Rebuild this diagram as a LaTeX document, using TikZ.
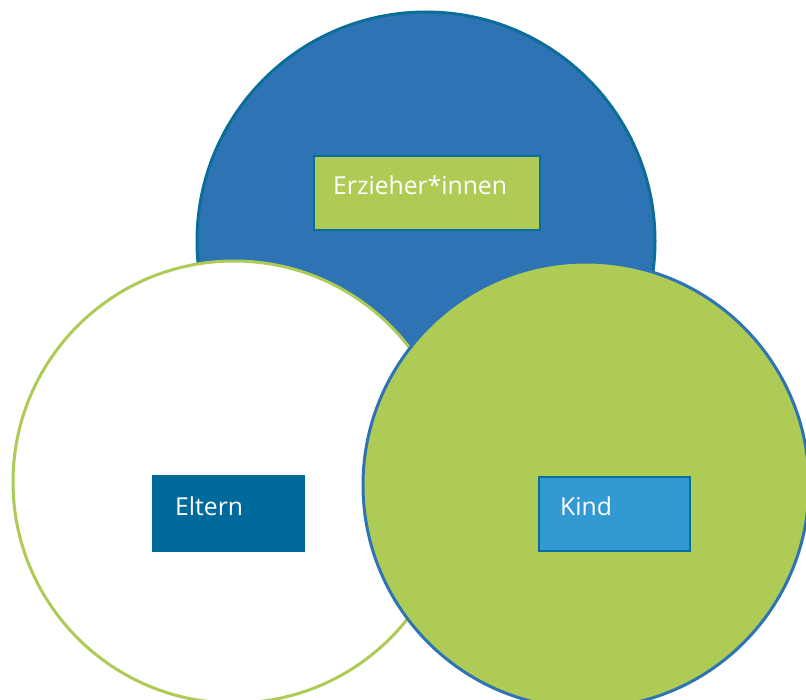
\documentclass[tikz,border=0pt]{standalone}
\usepackage{fontspec}
\setmainfont{Open Sans}
\definecolor{bluefill}{HTML}{2E74B5}
\definecolor{tealline}{HTML}{0B6E99}
\definecolor{greenfill}{HTML}{ADCB55}
\definecolor{elternfill}{HTML}{006A9A}
\definecolor{kindfill}{HTML}{3399D3}
\begin{document}
\begin{tikzpicture}[x=1pt,y=-1pt,
  circ/.style={circle, line width=3pt, inner sep=0pt},
  box/.style={rectangle, inner sep=0pt, line width=2pt},
  lab/.style={anchor=base west, text=white, font=\fontsize{24.7}{29}\selectfont, inner sep=0pt}]
\useasboundingbox (0,0) rectangle (806,700);
\fill[white] (0,0) rectangle (806,700);
\node[circ, draw=tealline, fill=bluefill, minimum size=458pt] (erz) at (426,241) {};
\node[circ, draw=greenfill, fill=white, minimum size=442pt] (elt) at (234,482) {};
\node[circ, draw=bluefill, fill=greenfill, minimum size=446pt] (kin) at (586,485) {};
\node[box, draw=tealline, fill=greenfill, minimum width=226pt, minimum height=74pt] (erzbox) at (426.5,193.5) {};
\node[box, fill=elternfill, minimum width=153pt, minimum height=77pt] (eltbox) at (228.5,513.5) {};
\node[box, draw=tealline, fill=kindfill, minimum width=151pt, minimum height=74pt] (kinbox) at (614,513.5) {};
\node[lab] (erzlab) at (333,195) {Erzieher*innen};
\node[lab] (eltlab) at (175,515) {Eltern};
\node[lab] (kinlab) at (560,515) {Kind};
\end{tikzpicture}
\end{document}
